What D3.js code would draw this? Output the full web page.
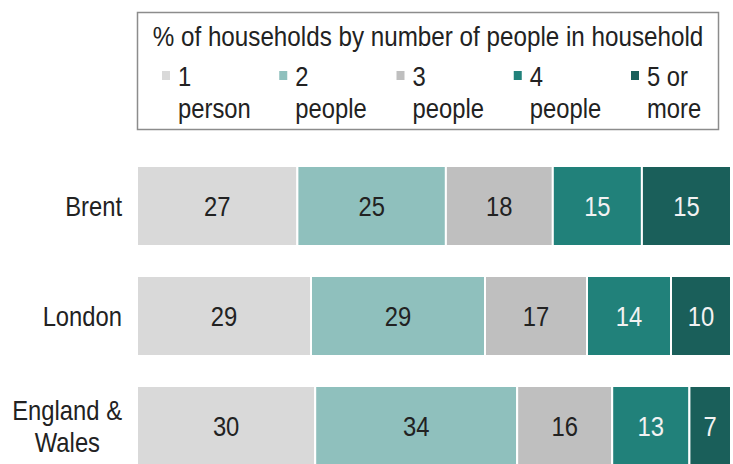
<!DOCTYPE html>
<html>
<head>
<meta charset="utf-8">
<script src="https://cdn.jsdelivr.net/npm/d3@7"></script>
<style>
  body { margin: 0; background: #fff; }
  text { font-family: "Liberation Sans", Arial, sans-serif; }
</style>
</head>
<body>
<div id="chart"></div>
<script>
const width = 733;
const height = 464;

// data
const areas = ["Brent", "London", "England & Wales"];
const sizeKeys = ["p1", "p2", "p3", "p4", "p5"];
const sizeLabels = [["1", "person"], ["2", "people"], ["3", "people"], ["4", "people"], ["5 or", "more"]];
const brentValues = [27, 25, 18, 15, 15];
const londonValues = [29, 29, 17, 14, 10];
const englandWalesValues = [30, 34, 16, 13, 7];
const colors = ["#d9d9d9", "#8fc0bd", "#bfbfbf", "#21817a", "#1a5f5a"];
const textColors = ["#222", "#222", "#222", "#f2f2f2", "#f2f2f2"];

const squeeze = 0.85; // text in the original looks horizontally compressed
const fontSize = 28;

const rows = [brentValues, londonValues, englandWalesValues].map((vals, i) => {
    const r = { area: areas[i] };
    sizeKeys.forEach((k, j) => r[k] = vals[j]);
    return r;
});

const svg = d3.select("#chart")
    .append("svg")
    .attr("width", width)
    .attr("height", height);

// place a text at (x, y) with narrowed glyphs
function label(parent, x, y) {
    return parent.append("text")
        .attr("transform", `translate(${x},${y}) scale(${squeeze},1)`)
        .attr("font-size", fontSize)
        .attr("fill", "#222");
}

// bars are scaled to the full width (each row sums to ~100)
const stack = d3.stack().keys(sizeKeys).offset(d3.stackOffsetExpand);
const series = stack(rows);

const x = d3.scaleLinear().domain([0, 1]).range([137, 731]);
const y = d3.scaleBand().domain(areas).range([166, 466]).paddingInner(0.2727);
const color = d3.scaleOrdinal().domain(sizeKeys).range(colors);

const layer = svg.selectAll("g.layer")
    .data(series)
    .enter().append("g")
    .attr("class", "layer");

layer.each(function (s, si) {
    const g = d3.select(this);
    s.forEach(d => {
        g.append("rect")
            .attr("x", x(d[0]))
            .attr("y", y(d.data.area))
            .attr("width", x(d[1]) - x(d[0]))
            .attr("height", y.bandwidth())
            .attr("fill", color(s.key))
            .attr("stroke", "#fff")
            .attr("stroke-width", 2);
        label(g, (x(d[0]) + x(d[1])) / 2, y(d.data.area) + y.bandwidth() / 2)
            .attr("dy", "0.35em")
            .attr("text-anchor", "middle")
            .attr("fill", textColors[si])
            .text(d.data[s.key]);
    });
});

// category labels
areas.forEach(a => {
    const cy = y(a) + y.bandwidth() / 2;
    if (a === "England & Wales") {
        label(svg, 122, cy - 16).attr("dy", "0.35em").attr("text-anchor", "end").text("England &");
        label(svg, 100, cy + 16).attr("dy", "0.35em").attr("text-anchor", "end").text("Wales");
    } else {
        label(svg, 122, cy).attr("dy", "0.35em").attr("text-anchor", "end").text(a);
    }
});

// legend box
const legend = svg.append("g");
legend.append("rect")
    .attr("x", 137.5)
    .attr("y", 12.5)
    .attr("width", 581)
    .attr("height", 117)
    .attr("fill", "none")
    .attr("stroke", "#8c8c8c")
    .attr("stroke-width", 1.5);

label(legend, 428, 36)
    .attr("dy", "0.35em")
    .attr("text-anchor", "middle")
    .attr("font-size", 28.5)
    .text("% of households by number of people in household");

const legendX = d3.scalePoint().domain(sizeKeys).range([178, 647]);

sizeKeys.forEach((k, i) => {
    const lx = legendX(k);
    legend.append("rect")
        .attr("x", lx - 16)
        .attr("y", 71)
        .attr("width", 8)
        .attr("height", 9)
        .attr("fill", color(k));
    sizeLabels[i].forEach((t, j) => {
        label(legend, lx, j === 0 ? 76 : 108)
            .attr("dy", "0.35em")
            .text(t);
    });
});
</script>
</body>
</html>
